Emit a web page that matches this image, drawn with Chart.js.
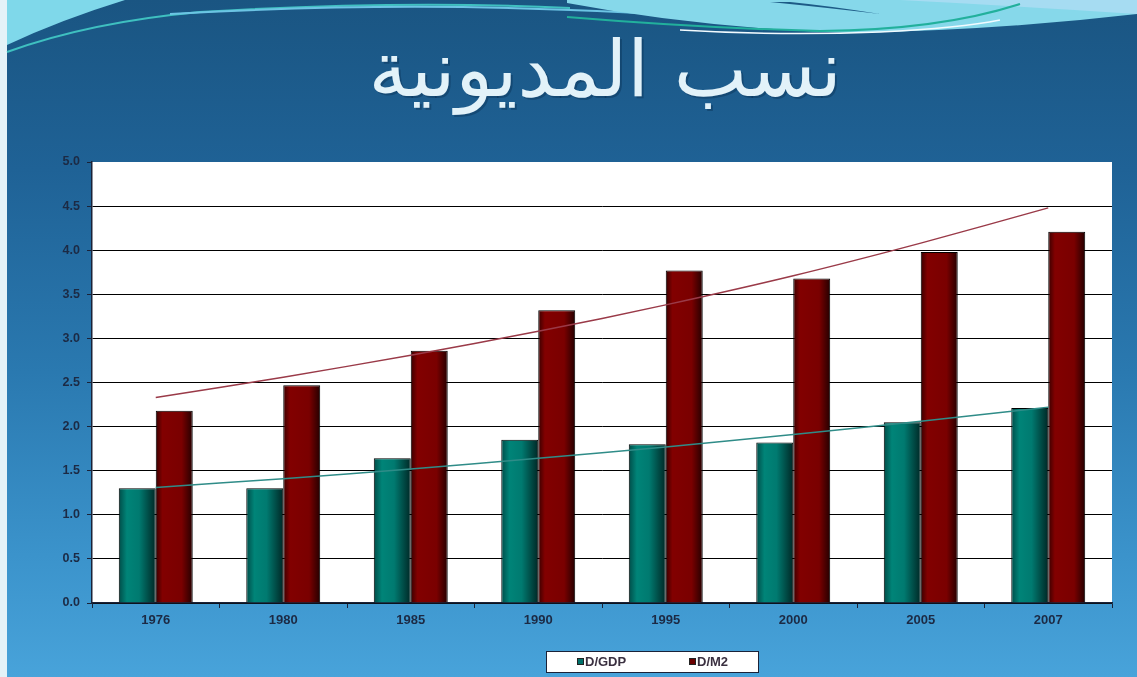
<!DOCTYPE html>
<html lang="ar">
<head>
<meta charset="UTF-8">
<title>نسب المديونية</title>
<script src="https://cdn.jsdelivr.net/npm/chart.js"></script>
<style>
  body { margin: 0; }
  #slide {
    position: relative; width: 1137px; height: 677px; overflow: hidden;
    background: linear-gradient(180deg, #1a5582 0%, #1f6296 25%, #2a79b0 55%, #3b93cb 82%, #48a3da 100%);
  }
  #slide svg, #slide canvas { position: absolute; left: 0; top: 0; }
</style>
</head>
<body>
<div id="slide">
  <svg width="1137" height="677">
    <rect x="0" y="0" width="7" height="677" fill="#e4f2f8"/>
    <path d="M7,0 L125,0 Q60,20 7,45 Z" fill="#7fd8ea"/>
    <path d="M7,52 Q90,22 200,12 Q400,0 570,8" stroke="#3fc0c0" stroke-width="2" fill="none"/>
    <path d="M170,14 Q380,2 570,10 Q680,14 760,22" stroke="#6cc4e4" stroke-width="2" fill="none"/>
    <path d="M567,3 Q700,28 850,33 Q1000,30 1137,14 L1137,0 L567,0 Z" fill="#86d8ea"/>
    <path d="M770,2 Q830,8 880,14 Q830,6 790,2 Z" fill="#1d5a86"/>
    <path d="M900,0 Q1000,5 1137,14 L1137,0 Z" fill="#a6dcf2"/>
    <path d="M680,30 Q780,36 880,32 Q960,28 1000,20" stroke="#f2fbff" stroke-width="1.5" fill="none"/>
    <path d="M567,17 Q700,28 820,31 Q940,30 1020,4" stroke="#22b09c" stroke-width="2" fill="none"/>
  </svg>
  <canvas id="debtChart" width="1137" height="677"></canvas>
</div>

<script>
const years = ['1976', '1980', '1985', '1990', '1995', '2000', '2005', '2007'];
const dGdp = [1.30, 1.30, 1.64, 1.85, 1.80, 1.82, 2.05, 2.21];
const dM2 = [2.18, 2.47, 2.86, 3.32, 3.77, 3.68, 3.98, 4.21];
// trend lines
const dGdpTrend = [1.31, 1.41, 1.52, 1.64, 1.77, 1.91, 2.06, 2.22];
const dM2Trend = [2.33, 2.56, 2.81, 3.08, 3.38, 3.71, 4.08, 4.48];
const titleText = 'نسب المديونية';

const catPct = 0.58;
const tealStops = [[0, '#004c48'], [0.22, '#008478'], [0.55, '#007a70'], [1, '#002826']];
const redStops = [[0, '#380000'], [0.18, '#820000'], [0.7, '#7a0000'], [1, '#240000']];

function barFill(context, stops, side) {
    const chart = context.chart;
    const x = chart.scales.x;
    if (!x || !chart.chartArea || context.type !== 'data') return stops[1][1];
    const c = x.getPixelForValue(context.dataIndex);
    const w = x.width / years.length * catPct / 2;
    const x0 = side < 0 ? c - w : c;
    const g = chart.ctx.createLinearGradient(x0, 0, x0 + w, 0);
    stops.forEach(s => g.addColorStop(s[0], s[1]));
    return g;
}

const slidePlugin = {
    id: 'slide',
    beforeDraw(chart) {
        const ctx = chart.ctx;
        const a = chart.chartArea;
        ctx.save();
        ctx.fillStyle = '#ffffff';
        ctx.fillRect(a.left, a.top, a.right - a.left, a.bottom - a.top);
        // title
        ctx.font = '78px "DejaVu Sans"';
        ctx.textAlign = 'center';
        ctx.textBaseline = 'middle';
        ctx.fillStyle = 'rgba(0,30,60,0.3)';
        ctx.fillText(titleText, 607, 78);
        ctx.fillStyle = '#e2f2f9';
        ctx.fillText(titleText, 605, 76);
        ctx.restore();
    },
    afterDraw(chart) {
        // legend in a framed box under the axis
        const ctx = chart.ctx;
        const items = [2, 3].map(i => ({
            text: chart.data.datasets[i].label,
            color: i === 2 ? '#00706a' : '#6a0000'
        }));
        ctx.save();
        ctx.fillStyle = '#ffffff';
        ctx.strokeStyle = '#1a2238';
        ctx.lineWidth = 1;
        ctx.fillRect(546, 651, 212, 21);
        ctx.strokeRect(546.5, 651.5, 212, 21);
        ctx.font = 'bold 13px "Liberation Sans", Arial, sans-serif';
        ctx.textBaseline = 'middle';
        const xs = [577, 689];
        items.forEach((it, k) => {
            ctx.fillStyle = it.color;
            ctx.fillRect(xs[k], 658, 7, 7);
            ctx.strokeStyle = '#222';
            ctx.strokeRect(xs[k] + 0.5, 658.5, 6, 6);
            ctx.fillStyle = '#3a3040';
            ctx.fillText(it.text, xs[k] + 8, 662);
        });
        ctx.restore();
    }
};

Chart.defaults.font.family = '"Liberation Sans", Arial, sans-serif';
Chart.defaults.color = '#1c2a44';

new Chart(document.getElementById('debtChart'), {
    data: {
        labels: years,
        datasets: [
            {
                type: 'line', label: 'trend D/GDP', data: dGdpTrend, order: 0,
                borderColor: '#2f8c88', borderWidth: 1.5, pointRadius: 0, tension: 0.3, fill: false
            },
            {
                type: 'line', label: 'trend D/M2', data: dM2Trend, order: 0,
                borderColor: '#9a3a48', borderWidth: 1.5, pointRadius: 0, tension: 0.3, fill: false
            },
            {
                type: 'bar', label: 'D/GDP', data: dGdp, order: 1,
                backgroundColor: c => barFill(c, tealStops, -1),
                borderColor: '#000', borderWidth: 1,
                categoryPercentage: catPct, barPercentage: 1
            },
            {
                type: 'bar', label: 'D/M2', data: dM2, order: 1,
                backgroundColor: c => barFill(c, redStops, 1),
                borderColor: '#000', borderWidth: 1,
                categoryPercentage: catPct, barPercentage: 1
            }
        ]
    },
    options: {
        responsive: false,
        animation: false,
        layout: { padding: { top: 162, left: 0, right: 25, bottom: 44 } },
        plugins: {
            title: { display: false },
            tooltip: { enabled: false },
            legend: { display: false }
        },
        scales: {
            x: {
                afterFit: s => { s.height = 30; },
                grid: { display: true, drawOnChartArea: false, offset: true, color: '#1a2238', tickLength: 5 },
                border: { color: '#1a2238', width: 1.5 },
                ticks: { font: { size: 13, weight: 'bold' }, color: '#1c2a44', padding: 5 }
            },
            y: {
                min: 0, max: 5,
                afterFit: s => { s.width = 92; },
                grid: {
                    color: c => c.tick && c.tick.value === 5 ? 'rgba(0,0,0,0)' : '#000',
                    tickColor: '#1a2238', tickLength: 5, lineWidth: 1
                },
                border: { color: '#1a2238', width: 1.5 },
                ticks: {
                    stepSize: 0.5, padding: 7,
                    font: { size: 12.5, weight: 'bold' }, color: '#1c2a44',
                    callback: v => v.toFixed(1)
                }
            }
        }
    },
    plugins: [slidePlugin]
});
</script>
</body>
</html>
